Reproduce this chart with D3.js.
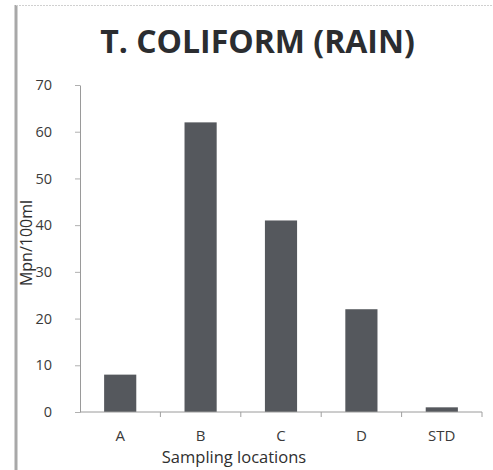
<!DOCTYPE html>
<html>
<head>
<meta charset="utf-8">
<script src="https://cdn.jsdelivr.net/npm/d3@7"></script>
<style>
  html, body { margin: 0; padding: 0; background: #fff; }
  svg { display: block; }
</style>
</head>
<body>
<svg id="chart" width="493" height="470"></svg>
<script>
// Total coliform counts during the rainy season, per sampling location
const categories = ["A", "B", "C", "D", "STD"];
const values = [8, 62, 41, 22, 1];
const yTicks = [0, 10, 20, 30, 40, 50, 60, 70];

const svg = d3.select("#chart");
const W = 493, H = 470;
const margin = { left: 80, right: 11, top: 85, bottom: 58 };
const font = "'Open Sans', 'Liberation Sans', sans-serif";

// page frame: heavy rule on the left, dotted rule on top
svg.append("line")
  .attr("x1", 16).attr("x2", 16).attr("y1", 5).attr("y2", H)
  .attr("stroke", "#a8a8a8").attr("stroke-width", 3);
svg.append("line")
  .attr("x1", 16).attr("x2", W).attr("y1", 5.5).attr("y2", 5.5)
  .attr("stroke", "#d0d0d0").attr("stroke-width", 1)
  .attr("stroke-dasharray", "2,1");

const x = d3.scaleBand()
  .domain(categories)
  .range([margin.left, W - margin.right])
  .paddingInner(0.6).paddingOuter(0.3);

const y = d3.scaleLinear()
  .domain([0, 70])
  .range([H - margin.bottom, margin.top]);

// title
svg.append("text")
  .attr("x", 257.5).attr("y", 53)
  .attr("text-anchor", "middle")
  .attr("font-family", font)
  .attr("font-weight", "bold")
  .attr("font-size", 32)
  .attr("fill", "#2b2d30")
  .text("T. COLIFORM (RAIN)");

// bars
svg.append("g").selectAll("rect")
  .data(values)
  .join("rect")
  .attr("x", (d, i) => x(categories[i]))
  .attr("width", x.bandwidth())
  .attr("y", d => y(d))
  .attr("height", d => y(0) - y(d))
  .attr("fill", "#55585d");

// y axis
const yAxis = svg.append("g")
  .attr("transform", `translate(${margin.left},0)`)
  .call(d3.axisLeft(y).tickValues(yTicks).tickSize(5).tickPadding(23).tickSizeOuter(0));
yAxis.select(".domain").attr("stroke", "#9a9a9a");
yAxis.selectAll(".tick line").attr("stroke", "#b0b0b0");
yAxis.selectAll(".tick text")
  .attr("font-family", font).attr("font-size", 14.5)
  .attr("fill", "#3a3a3a");

// x axis with ticks at the category boundaries
const xAxisG = svg.append("g")
  .attr("transform", `translate(0,${y(0)})`);
xAxisG.append("line")
  .attr("x1", margin.left).attr("x2", W - margin.right)
  .attr("stroke", "#9a9a9a");
const step = x.step();
const boundaries = categories.map(c => x(c) + x.bandwidth() / 2 + step / 2);
xAxisG.selectAll(".bt")
  .data(boundaries)
  .join("line")
  .attr("x1", d => d).attr("x2", d => d)
  .attr("y1", 0).attr("y2", 5)
  .attr("stroke", "#a0a0a0");
xAxisG.selectAll(".cat")
  .data(categories)
  .join("text")
  .attr("x", d => x(d) + x.bandwidth() / 2)
  .attr("y", 29)
  .attr("text-anchor", "middle")
  .attr("font-family", font).attr("font-size", 15)
  .attr("fill", "#3a3a3a")
  .text(d => d);

// axis titles
svg.append("text")
  .attr("x", 234).attr("y", 463)
  .attr("text-anchor", "middle")
  .attr("font-family", font).attr("font-size", 16.5)
  .attr("fill", "#2f2f2f")
  .text("Sampling locations");

svg.append("text")
  .attr("transform", "translate(32,243) rotate(-90)")
  .attr("text-anchor", "middle")
  .attr("font-family", font).attr("font-size", 16)
  .attr("fill", "#2f2f2f")
  .text("Mpn/100ml");
</script>
</body>
</html>
